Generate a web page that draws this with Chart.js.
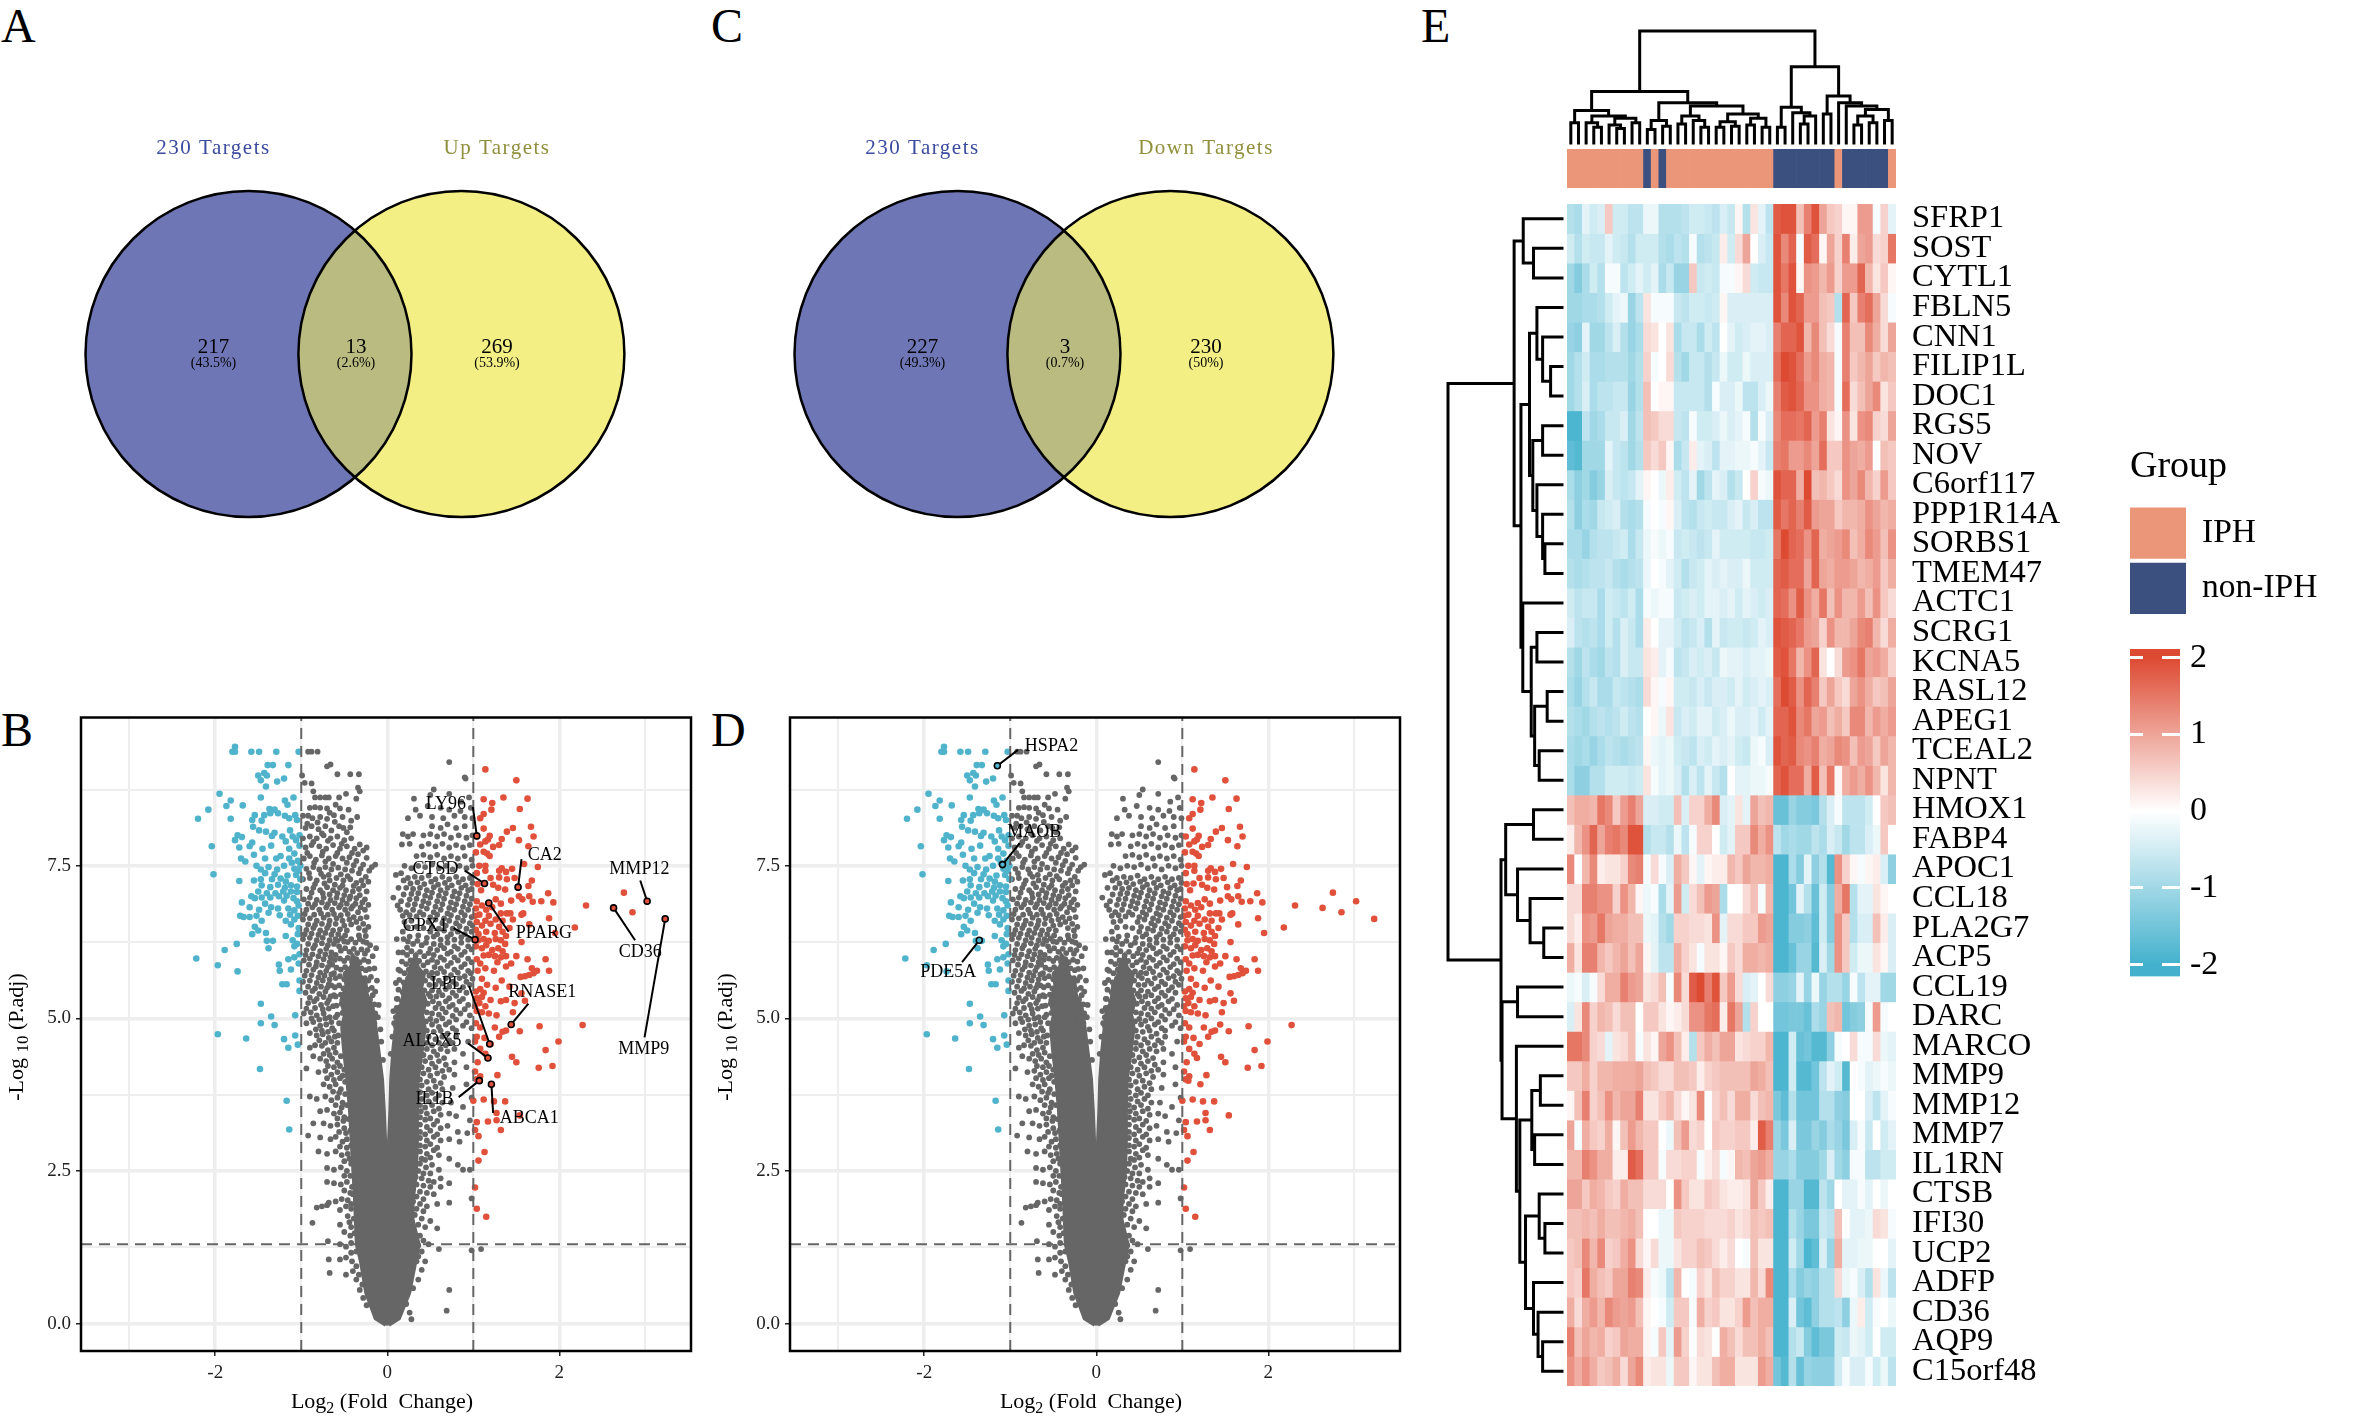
<!DOCTYPE html>
<html><head><meta charset="utf-8">
<script src="https://cdn.jsdelivr.net/npm/chart.js@4"></script>
<style>
html,body{margin:0;padding:0;background:#fff;width:2364px;height:1418px;overflow:hidden}
canvas{position:absolute}
.tag{position:absolute;font:48px "Liberation Serif",serif;color:#000;line-height:48px}
</style></head><body>
<div class="tag" style="left:1px;top:2px">A</div>
<div class="tag" style="left:711px;top:2px">C</div>
<div class="tag" style="left:1px;top:706px">B</div>
<div class="tag" style="left:711px;top:706px">D</div>
<div class="tag" style="left:1421px;top:2px">E</div>
<script>
// ---------- Venn ----------
const vennA=[217,13,269], vennApct=['(43.5%)','(2.6%)','(53.9%)'], vennAnames=['230 Targets','Up Targets'];
const vennC=[227,3,230], vennCpct=['(49.3%)','(0.7%)','(50%)'], vennCnames=['230 Targets','Down Targets'];
// ---------- Volcano ----------
const blueUp=[[-1.80,9.37],[-1.77,9.37],[-1.77,9.45],[-1.58,9.37],[-1.49,9.37],[-1.29,9.37],[-1.03,9.37],[-1.39,9.15],[-1.33,9.15],[-1.15,9.15],[-1.50,8.98],[-1.43,9.02],[-1.47,8.90],[-1.40,8.98],[-1.28,8.88],[-1.20,8.93],[-1.41,8.80],[-1.95,8.68],[-1.47,8.62],[-1.09,8.62],[-1.82,8.57],[-1.19,8.57],[-1.87,8.48],[-1.68,8.49],[-1.16,8.50],[-1.37,8.43],[-1.31,8.42],[-1.36,8.36],[-2.08,8.42],[-1.54,8.33],[-1.43,8.33],[-1.27,8.36],[-1.19,8.32],[-1.07,8.33],[-1.14,8.28],[-2.20,8.27],[-1.82,8.27],[-1.57,8.25],[-1.46,8.24],[-1.05,8.25],[-1.56,8.14],[-1.49,8.08],[-1.41,8.06],[-1.31,8.04],[-1.13,8.08],[-1.74,8.00],[-1.69,7.97],[-1.34,7.99],[-1.22,7.98],[-1.10,7.98],[-1.02,8.00],[-1.77,7.92],[-1.57,7.88],[-1.18,7.90],[-1.06,7.92],[-2.04,7.82],[-1.72,7.80],[-1.60,7.82],[-1.45,7.78],[-1.35,7.83],[-1.14,7.78],[-1.02,7.83],[-1.55,7.68],[-1.24,7.66],[-1.14,7.62],[-1.08,7.70],[-1.70,7.62],[-1.65,7.57],[-1.42,7.62],[-1.29,7.62],[-1.11,7.55],[-1.04,7.58],[-1.01,7.50],[-1.52,7.50],[-1.47,7.44],[-1.38,7.48],[-1.28,7.44],[-1.20,7.50],[-1.08,7.45],[-1.03,7.42],[-2.02,7.36],[-1.42,7.38],[-1.31,7.36],[-1.16,7.34],[-1.06,7.35],[-1.72,7.25],[-1.55,7.26],[-1.47,7.28],[-1.34,7.28],[-1.24,7.29],[-1.18,7.24],[-1.01,7.28],[-1.46,7.18],[-1.36,7.15],[-1.27,7.19],[-1.19,7.14],[-1.12,7.18],[-1.05,7.16],[-1.50,7.08],[-1.40,7.05],[-1.30,7.05],[-1.21,7.08],[-1.12,7.08],[-1.05,7.07],[-1.58,7.00],[-1.54,6.97],[-1.46,6.98],[-1.36,6.98],[-1.26,7.00],[-1.17,7.01],[-1.09,6.97],[-1.69,6.90],[-1.42,6.88],[-1.20,6.93],[-1.05,6.92],[-1.60,6.82],[-1.49,6.78],[-1.35,6.82],[-1.27,6.80],[-1.15,6.80],[-1.08,6.77],[-1.03,6.85],[-1.71,6.68],[-1.67,6.66],[-1.60,6.66],[-1.52,6.68],[-1.38,6.73],[-1.25,6.69],[-1.13,6.70],[-1.04,6.68],[-1.46,6.60],[-1.54,6.50],[-1.50,6.44],[-1.18,6.60],[-1.12,6.54],[-1.08,6.62],[-1.03,6.48],[-1.57,6.38],[-1.41,6.40],[-1.18,6.35],[-1.04,6.38],[-1.40,6.27],[-1.33,6.27],[-1.10,6.28],[-1.05,6.22],[-1.75,6.22],[-1.89,6.12],[-1.38,6.15],[-1.08,6.18],[-2.22,5.98],[-1.02,6.05],[-1.08,6.00],[-1.15,5.97],[-1.03,5.90],[-1.97,5.87],[-1.26,5.88],[-1.12,5.80],[-1.25,5.78],[-1.74,5.77],[-1.02,5.62],[-1.22,5.56],[-1.17,5.56],[-1.02,5.45],[-1.47,5.24],[-1.35,5.03],[-1.07,5.05],[-1.47,4.92],[-1.31,4.89],[-1.20,4.66],[-1.97,4.74],[-1.64,4.67],[-1.04,4.57],[-1.15,4.52],[-1.07,4.72],[-1.48,4.17],[-1.17,3.65],[-1.14,3.18]];
const redUp=[[1.14,9.08],[1.50,8.90],[1.35,8.62],[1.12,8.59],[1.63,8.60],[1.22,8.53],[1.21,8.42],[1.54,8.43],[1.12,8.35],[1.08,8.28],[1.67,8.14],[1.46,8.12],[1.39,8.06],[1.12,8.11],[1.70,7.98],[1.19,7.99],[1.33,7.94],[1.53,7.92],[1.14,7.90],[1.17,7.93],[1.30,7.84],[1.23,7.81],[1.64,7.82],[1.12,7.73],[1.16,7.70],[1.19,7.66],[1.04,7.98],[1.08,7.85],[1.03,7.72],[1.59,7.53],[1.75,7.48],[1.14,7.50],[1.07,7.50],[1.33,7.46],[1.45,7.45],[1.30,7.42],[1.14,7.42],[1.38,7.40],[1.04,7.38],[1.48,7.30],[1.39,7.28],[1.30,7.31],[1.68,7.26],[1.64,7.17],[1.20,7.30],[1.23,7.19],[1.29,7.14],[1.37,7.11],[1.52,7.15],[1.13,7.21],[1.05,7.20],[1.09,7.10],[1.87,7.05],[1.65,7.00],[1.53,7.00],[1.57,6.95],[1.44,6.93],[1.69,6.91],[1.79,6.92],[1.93,6.90],[2.31,6.85],[2.75,7.06],[2.85,6.74],[1.88,6.64],[2.18,6.49],[3.02,6.92],[2.63,6.81],[3.23,6.63],[1.18,6.89],[1.26,6.95],[1.04,6.92],[1.10,6.85],[1.03,6.80],[1.15,6.78],[1.22,6.82],[1.32,6.88],[1.43,6.72],[1.39,6.72],[1.58,6.72],[1.56,6.70],[1.32,6.72],[1.07,6.70],[1.02,6.68],[1.18,6.68],[1.26,6.62],[1.14,6.60],[1.34,6.60],[1.46,6.62],[1.04,6.58],[1.10,6.52],[1.20,6.55],[1.30,6.50],[1.65,6.54],[1.42,6.48],[1.03,6.45],[1.06,6.38],[1.15,6.42],[1.25,6.40],[1.34,6.42],[1.38,6.35],[1.95,6.40],[1.06,6.28],[1.12,6.30],[1.18,6.27],[1.26,6.30],[1.32,6.28],[1.37,6.22],[1.56,6.25],[1.03,6.18],[1.10,6.15],[1.15,6.20],[1.22,6.12],[1.29,6.15],[1.34,6.10],[1.12,6.03],[1.18,6.04],[1.25,6.02],[1.32,6.00],[1.38,6.02],[1.50,6.02],[1.63,5.97],[1.84,5.97],[1.04,5.97],[1.08,5.90],[1.28,5.92],[1.44,5.90],[1.14,5.82],[1.38,5.85],[1.68,5.82],[1.88,5.78],[1.74,5.78],[1.05,5.78],[1.24,5.78],[1.60,5.69],[1.65,5.71],[1.70,5.74],[1.55,5.68],[1.10,5.65],[1.33,5.62],[1.16,5.55],[1.26,5.50],[1.42,5.52],[1.08,5.48],[1.03,5.44],[1.12,5.42],[1.56,5.41],[1.04,5.33],[1.10,5.35],[1.20,5.30],[1.32,5.28],[1.38,5.30],[1.48,5.25],[1.60,5.29],[1.02,5.20],[1.07,5.25],[1.14,5.20],[1.04,5.12],[1.10,5.10],[1.18,5.08],[1.27,5.05],[1.46,5.10],[1.03,4.92],[1.08,4.85],[1.44,4.90],[1.38,4.80],[1.54,4.79],[1.77,4.87],[2.27,4.89],[1.25,4.85],[1.04,4.70],[1.13,4.68],[1.20,4.58],[1.30,4.70],[1.34,4.78],[1.99,4.62],[1.84,4.48],[1.02,4.62],[1.08,4.50],[1.17,4.35],[1.14,4.42],[1.45,4.37],[1.50,4.28],[1.92,4.22],[1.76,4.19],[1.05,4.28],[1.02,4.13],[1.08,4.05],[1.07,3.98],[1.21,3.92],[1.28,4.07],[1.04,4.00],[1.37,3.64],[1.12,3.67],[1.00,3.65],[1.24,3.64],[1.27,3.33],[1.17,3.31],[1.32,3.17],[1.04,3.30],[1.54,3.41],[1.27,3.45],[1.02,3.17],[1.06,3.07],[1.13,2.81],[1.06,2.67],[1.02,2.23],[1.04,1.88],[1.15,1.75]];
const grayDots=[[-0.92,9.37],[-0.88,9.37],[-0.81,9.37],[-0.70,9.13],[-0.66,9.16],[-0.58,9.00],[-0.43,9.00],[-0.33,9.00],[-0.99,8.98],[-0.96,8.86],[-0.88,8.85],[-0.86,8.72],[-0.34,8.78],[-0.32,8.72],[-0.84,8.62],[-0.78,8.62],[-0.72,8.62],[-0.68,8.62],[-0.56,8.62],[-0.48,8.68],[-0.36,8.60],[-0.90,8.45],[-0.84,8.46],[-0.78,8.45],[-0.70,8.44],[-0.60,8.50],[-0.55,8.44],[-0.45,8.42],[-0.98,8.32],[-0.92,8.32],[-0.87,8.28],[-0.78,8.30],[-0.70,8.27],[-0.62,8.33],[-0.52,8.30],[-0.42,8.24],[-0.35,8.30],[-0.95,8.12],[-0.88,8.15],[-0.80,8.10],[-0.72,8.15],[-0.65,8.08],[-0.56,8.15],[-0.47,8.05],[-0.98,7.95],[-0.90,7.98],[-0.82,7.95],[-0.74,8.00],[-0.66,7.95],[-0.58,7.98],[-0.50,7.92],[-0.42,7.95],[-0.32,7.85],[-0.24,7.80],[-0.95,7.80],[-0.88,7.84],[-0.79,7.82],[-0.71,7.78],[-0.63,7.84],[-0.55,7.78],[-0.47,7.82],[-0.38,7.78],[-0.28,7.75],[-0.97,7.62],[-0.90,7.66],[-0.83,7.60],[-0.76,7.67],[-0.68,7.62],[-0.60,7.66],[-0.52,7.62],[-0.44,7.64],[-0.36,7.58],[-0.28,7.52],[-0.18,7.48],[-0.14,7.52],[-0.94,7.45],[-0.86,7.48],[-0.79,7.44],[-0.72,7.48],[-0.65,7.44],[-0.57,7.47],[-0.49,7.44],[-0.41,7.42],[-0.33,7.38],[-0.25,7.32],[-0.98,7.28],[-0.90,7.30],[-0.82,7.26],[-0.74,7.32],[-0.67,7.26],[-0.59,7.30],[-0.51,7.26],[-0.43,7.28],[-0.36,7.22],[-0.28,7.18],[-0.94,7.12],[-0.86,7.14],[-0.78,7.10],[-0.70,7.15],[-0.63,7.10],[-0.55,7.14],[-0.48,7.10],[-0.40,7.08],[-0.32,7.02],[-0.26,6.95],[-0.97,6.95],[-0.90,6.98],[-0.82,6.94],[-0.74,6.98],[-0.66,6.94],[-0.59,6.98],[-0.52,6.94],[-0.44,6.96],[-0.37,6.88],[-0.94,6.78],[-0.87,6.82],[-0.79,6.78],[-0.71,6.82],[-0.64,6.78],[-0.56,6.82],[-0.49,6.78],[-0.42,6.80],[-0.34,6.74],[-0.26,6.78],[-0.98,6.62],[-0.90,6.64],[-0.82,6.60],[-0.74,6.65],[-0.67,6.60],[-0.59,6.64],[-0.52,6.60],[-0.44,6.62],[-0.36,6.58],[-0.28,6.55],[-0.22,6.50],[-0.94,6.45],[-0.86,6.48],[-0.78,6.44],[-0.70,6.48],[-0.63,6.44],[-0.55,6.46],[-0.47,6.44],[-0.98,6.30],[-0.90,6.32],[-0.82,6.28],[-0.75,6.32],[-0.67,6.28],[-0.60,6.30],[-0.94,6.12],[-0.86,6.15],[-0.78,6.10],[-0.71,6.14],[-0.65,6.08],[-0.25,6.35],[-0.20,6.20],[-0.97,5.95],[-0.90,5.98],[-0.82,5.92],[-0.74,5.97],[-0.67,5.92],[-0.94,5.78],[-0.86,5.80],[-0.78,5.75],[-0.71,5.78],[-0.65,5.72],[-0.98,5.60],[-0.90,5.62],[-0.82,5.58],[-0.75,5.62],[-0.68,5.56],[-0.95,5.42],[-0.87,5.45],[-0.79,5.40],[-0.72,5.44],[-0.66,5.36],[-0.92,5.25],[-0.85,5.28],[-0.77,5.22],[-0.70,5.25],[-0.97,5.08],[-0.89,5.10],[-0.82,5.05],[-0.74,5.08],[-0.67,5.02],[-0.94,4.92],[-0.86,4.94],[-0.78,4.88],[-0.71,4.90],[-0.64,4.84],[-0.90,4.76],[-0.82,4.72],[-0.75,4.74],[-0.68,4.68],[-0.61,4.70],[-0.90,4.52],[-0.84,4.56],[-0.76,4.55],[-0.69,4.48],[-0.62,4.52],[-0.86,4.38],[-0.78,4.34],[-0.71,4.30],[-0.64,4.34],[-0.58,4.28],[-0.94,4.18],[-0.80,4.12],[-0.72,4.14],[-0.65,4.08],[-0.58,4.12],[-0.52,4.06],[-0.90,3.72],[-0.74,3.92],[-0.67,3.88],[-0.60,3.92],[-0.54,3.84],[-0.82,3.68],[-0.72,3.72],[-0.65,3.66],[-0.58,3.70],[-0.52,3.62],[-0.78,3.48],[-0.70,3.50],[-0.62,3.44],[-0.55,3.46],[-0.50,3.38],[-0.86,3.28],[-0.74,3.28],[-0.66,3.24],[-0.58,3.26],[-0.50,3.20],[-0.92,3.08],[-0.78,3.05],[-0.66,3.02],[-0.60,3.06],[-0.52,2.98],[-0.47,3.02],[-0.80,2.82],[-0.70,2.78],[-0.60,2.82],[-0.53,2.76],[-0.46,2.78],[-0.70,2.55],[-0.62,2.52],[-0.54,2.56],[-0.47,2.50],[-0.42,2.62],[-0.70,2.32],[-0.62,2.30],[-0.54,2.28],[-0.47,2.32],[-0.41,2.24],[-0.68,1.98],[-0.60,2.00],[-0.53,2.04],[-0.46,2.02],[-0.40,2.12],[-0.82,1.90],[-0.76,1.92],[-0.70,1.94],[-0.55,1.86],[-0.46,1.76],[-0.42,1.88],[-0.87,1.65],[-0.55,1.62],[-0.50,1.50],[-0.42,1.58],[-0.69,1.35],[-0.55,1.30],[-0.48,1.26],[-0.42,1.32],[-0.68,1.05],[-0.55,1.05],[-0.48,1.08],[-0.41,1.02],[-0.67,0.83],[-0.48,0.80],[-0.40,0.86],[-0.36,0.72],[-0.32,0.55],[-0.28,0.42],[-0.24,0.30],[0.72,9.20],[0.90,8.95],[0.91,8.93],[0.54,8.75],[0.95,8.62],[0.31,8.60],[0.50,8.66],[0.72,8.68],[0.86,8.55],[0.33,8.42],[0.47,8.48],[0.62,8.45],[0.72,8.42],[0.85,8.40],[0.97,8.45],[0.24,8.28],[0.38,8.32],[0.52,8.30],[0.65,8.28],[0.78,8.32],[0.90,8.30],[0.99,8.28],[0.52,8.15],[0.62,8.12],[0.70,8.18],[0.80,8.12],[0.90,8.15],[0.18,8.02],[0.24,7.98],[0.30,8.02],[0.42,8.00],[0.50,8.02],[0.58,7.98],[0.66,8.02],[0.74,7.96],[0.83,8.00],[0.92,7.96],[0.99,8.00],[0.17,7.85],[0.26,7.86],[0.40,7.82],[0.48,7.86],[0.56,7.82],[0.64,7.86],[0.72,7.80],[0.80,7.84],[0.88,7.80],[0.96,7.84],[0.34,7.66],[0.42,7.68],[0.50,7.64],[0.58,7.68],[0.66,7.62],[0.74,7.66],[0.82,7.62],[0.90,7.66],[0.98,7.60],[0.20,7.50],[0.28,7.46],[0.36,7.50],[0.44,7.48],[0.52,7.52],[0.60,7.46],[0.68,7.50],[0.76,7.44],[0.84,7.50],[0.92,7.46],[0.99,7.50],[0.10,7.35],[0.16,7.38],[0.24,7.30],[0.32,7.32],[0.40,7.30],[0.48,7.34],[0.56,7.28],[0.64,7.32],[0.72,7.28],[0.80,7.32],[0.88,7.28],[0.96,7.30],[0.22,7.14],[0.30,7.12],[0.38,7.14],[0.46,7.10],[0.54,7.15],[0.62,7.10],[0.70,7.14],[0.78,7.08],[0.86,7.14],[0.94,7.10],[0.07,6.98],[0.16,6.92],[0.26,6.95],[0.34,6.96],[0.42,6.92],[0.50,6.98],[0.58,6.92],[0.66,6.96],[0.74,6.90],[0.82,6.96],[0.90,6.92],[0.98,6.96],[0.15,6.78],[0.22,6.74],[0.30,6.78],[0.38,6.74],[0.46,6.80],[0.54,6.74],[0.62,6.78],[0.70,6.72],[0.78,6.78],[0.86,6.74],[0.94,6.78],[0.20,6.58],[0.28,6.60],[0.48,6.58],[0.56,6.62],[0.64,6.56],[0.72,6.60],[0.80,6.56],[0.88,6.60],[0.96,6.56],[0.18,6.42],[0.50,6.42],[0.58,6.38],[0.66,6.44],[0.74,6.38],[0.82,6.42],[0.90,6.38],[0.98,6.42],[0.54,6.22],[0.62,6.20],[0.70,6.24],[0.78,6.18],[0.86,6.24],[0.94,6.18],[0.54,6.04],[0.62,6.00],[0.70,6.06],[0.78,6.00],[0.86,6.04],[0.94,5.98],[0.55,5.84],[0.62,5.82],[0.70,5.86],[0.78,5.80],[0.86,5.84],[0.94,5.78],[0.53,5.66],[0.60,5.62],[0.68,5.66],[0.76,5.60],[0.84,5.66],[0.92,5.60],[0.99,5.65],[0.52,5.46],[0.60,5.44],[0.68,5.48],[0.76,5.42],[0.84,5.46],[0.92,5.42],[0.53,5.28],[0.60,5.24],[0.68,5.28],[0.76,5.22],[0.84,5.28],[0.94,5.22],[0.52,5.08],[0.60,5.06],[0.68,5.10],[0.76,5.04],[0.85,5.08],[0.96,5.05],[0.52,4.90],[0.60,4.86],[0.68,4.90],[0.76,4.84],[0.88,4.88],[0.98,4.84],[0.48,4.70],[0.56,4.66],[0.64,4.70],[0.72,4.64],[0.80,4.70],[0.94,4.62],[0.46,4.50],[0.54,4.46],[0.62,4.50],[0.70,4.46],[0.78,4.50],[0.88,4.42],[0.44,4.30],[0.52,4.26],[0.60,4.30],[0.68,4.24],[0.78,4.28],[0.92,4.20],[0.42,4.10],[0.50,4.06],[0.58,4.10],[0.66,4.04],[0.78,4.08],[0.92,3.92],[0.40,3.90],[0.48,3.84],[0.56,3.88],[0.64,3.84],[0.76,3.86],[0.98,3.70],[0.40,3.68],[0.48,3.64],[0.56,3.68],[0.64,3.62],[0.74,3.62],[0.88,3.55],[0.39,3.48],[0.46,3.44],[0.54,3.48],[0.62,3.42],[0.72,3.44],[0.80,3.40],[0.96,3.33],[0.38,3.26],[0.46,3.22],[0.54,3.26],[0.62,3.20],[0.70,3.24],[0.82,3.14],[0.93,3.12],[0.38,3.04],[0.46,3.00],[0.54,3.06],[0.62,3.00],[0.72,3.02],[0.84,2.98],[0.38,2.82],[0.46,2.78],[0.54,2.84],[0.60,2.76],[0.72,2.70],[0.82,2.60],[0.88,2.52],[0.38,2.62],[0.45,2.56],[0.52,2.60],[0.60,2.52],[0.96,2.52],[0.33,2.40],[0.40,2.38],[0.48,2.34],[0.54,2.32],[0.62,2.38],[0.30,2.20],[0.38,2.16],[0.46,2.14],[0.54,2.12],[0.62,2.24],[0.72,2.30],[0.30,2.00],[0.38,1.96],[0.46,1.92],[0.58,1.96],[0.72,1.98],[0.98,2.05],[0.32,1.78],[0.40,1.72],[0.50,1.68],[0.58,1.56],[0.30,1.56],[0.38,1.44],[0.48,1.30],[0.60,1.22],[0.40,1.18],[0.98,1.20],[1.09,1.22],[0.34,1.02],[0.44,1.02],[0.40,0.88],[0.36,0.72],[0.30,0.58],[0.72,0.55],[0.69,0.21],[0.28,0.07],[0.22,0.32],[0.26,0.18]];
const grayMore=[[-0.81,8.21],[-0.67,8.37],[-0.93,8.19],[-0.51,8.12],[-0.76,8.03],[-0.61,8.22],[-0.43,8.13],[-0.86,7.89],[-0.53,7.86],[-0.69,7.91],[-0.34,7.69],[-0.93,7.71],[-0.75,7.73],[-0.58,7.71],[-0.41,7.71],[-0.24,7.63],[-0.85,7.55],[-0.72,7.57],[-0.63,7.53],[-0.47,7.55],[-0.39,7.51],[-0.31,7.45],[-0.21,7.42],[-0.91,7.38],[-0.77,7.37],[-0.68,7.35],[-0.54,7.36],[-0.46,7.33],[-0.30,7.26],[-0.22,7.24],[-0.84,7.20],[-0.73,7.21],[-0.61,7.19],[-0.52,7.18],[-0.39,7.17],[-0.33,7.12],[-0.24,7.08],[-0.88,7.06],[-0.75,7.05],[-0.67,7.03],[-0.58,7.05],[-0.50,7.02],[-0.43,7.00],[-0.36,6.97],[-0.29,6.90],[-0.92,6.88],[-0.84,6.87],[-0.76,6.90],[-0.69,6.87],[-0.61,6.89],[-0.54,6.86],[-0.47,6.88],[-0.40,6.84],[-0.31,6.82],[-0.22,6.86],[-0.96,6.71],[-0.85,6.70],[-0.77,6.72],[-0.69,6.70],[-0.62,6.71],[-0.54,6.69],[-0.46,6.71],[-0.39,6.66],[-0.31,6.64],[-0.24,6.66],[-0.92,6.54],[-0.84,6.53],[-0.76,6.55],[-0.68,6.53],[-0.60,6.55],[-0.50,6.52],[-0.42,6.54],[-0.33,6.48],[-0.26,6.44],[-0.96,6.38],[-0.88,6.39],[-0.80,6.37],[-0.72,6.40],[-0.65,6.37],[-0.57,6.38],[-0.49,6.36],[-0.92,6.22],[-0.84,6.20],[-0.76,6.23],[-0.69,6.20],[-0.62,6.22],[-0.56,6.18],[-0.50,6.26],[-0.32,6.30],[-0.24,6.24],[-0.95,6.04],[-0.87,6.05],[-0.80,6.02],[-0.72,6.05],[-0.66,6.00],[-0.60,6.04],[-0.91,5.88],[-0.83,5.85],[-0.76,5.87],[-0.69,5.84],[-0.64,5.88],[-0.96,5.70],[-0.88,5.71],[-0.80,5.67],[-0.73,5.70],[-0.67,5.64],[-0.62,5.74],[-0.92,5.52],[-0.84,5.49],[-0.77,5.52],[-0.70,5.50],[-0.65,5.54],[-0.90,5.34],[-0.82,5.32],[-0.74,5.35],[-0.68,5.30],[-0.62,5.38],[-0.94,5.16],[-0.84,5.17],[-0.75,5.15],[-0.68,5.16],[-0.63,5.20],[-0.88,5.00],[-0.79,4.98],[-0.72,5.00],[-0.65,4.94],[-0.60,5.02],[-0.83,4.82],[-0.76,4.80],[-0.69,4.78],[-0.62,4.80],[-0.57,4.72],[-0.79,4.64],[-0.72,4.60],[-0.65,4.62],[-0.58,4.60],[-0.74,4.42],[-0.67,4.40],[-0.60,4.44],[-0.54,4.38],[-0.69,4.22],[-0.62,4.20],[-0.55,4.22],[-0.50,4.16],[-0.70,4.02],[-0.62,3.99],[-0.55,4.02],[-0.49,3.96],[-0.63,3.80],[-0.56,3.78],[-0.49,3.76],[-0.60,3.58],[-0.53,3.54],[-0.47,3.58],[-0.58,3.36],[-0.51,3.32],[-0.45,3.35],[-0.56,3.14],[-0.48,3.12],[-0.43,3.16],[-0.55,2.90],[-0.47,2.88],[-0.42,2.92],[-0.50,2.66],[-0.44,2.70],[-0.50,2.42],[-0.43,2.42],[-0.50,2.18],[-0.43,2.14],[-0.48,1.92],[-0.42,1.96],[-0.44,1.66],[-0.39,1.72],[-0.43,1.44],[-0.38,1.48],[-0.42,1.16],[-0.36,1.18],[-0.36,0.94],[-0.33,0.80],[-0.29,0.64],[-0.13,6.15],[-0.17,6.02],[-0.15,5.82],[-0.12,5.62],[-0.14,5.44],[-0.10,5.22],[-0.11,5.02],[-0.08,4.82],[-0.07,4.62],[-0.05,4.32],[0.11,6.30],[0.13,6.08],[0.13,5.80],[0.10,5.58],[0.11,5.32],[0.07,5.12],[0.08,4.92],[0.06,4.70],[0.04,4.42],[0.13,7.14],[0.19,7.26],[0.27,7.21],[0.35,7.23],[0.43,7.20],[0.51,7.24],[0.59,7.19],[0.67,7.22],[0.75,7.18],[0.83,7.23],[0.91,7.18],[0.99,7.22],[0.19,7.03],[0.28,7.04],[0.36,7.05],[0.44,7.01],[0.52,7.06],[0.60,7.01],[0.68,7.05],[0.76,7.00],[0.84,7.05],[0.92,7.01],[0.98,7.12],[0.12,6.85],[0.24,6.86],[0.32,6.87],[0.40,6.84],[0.48,6.89],[0.56,6.83],[0.64,6.87],[0.72,6.81],[0.80,6.87],[0.88,6.83],[0.96,6.87],[0.18,6.68],[0.26,6.69],[0.34,6.67],[0.42,6.70],[0.50,6.66],[0.58,6.70],[0.66,6.64],[0.74,6.69],[0.82,6.65],[0.90,6.69],[0.98,6.66],[0.24,6.49],[0.34,6.50],[0.42,6.48],[0.52,6.50],[0.60,6.47],[0.68,6.52],[0.76,6.47],[0.84,6.51],[0.92,6.47],[0.99,6.52],[0.26,6.34],[0.36,6.36],[0.46,6.32],[0.54,6.34],[0.62,6.29],[0.70,6.33],[0.78,6.29],[0.86,6.33],[0.94,6.29],[0.23,6.16],[0.50,6.14],[0.58,6.12],[0.66,6.15],[0.74,6.09],[0.82,6.14],[0.90,6.09],[0.98,6.13],[0.52,5.96],[0.58,5.92],[0.66,5.96],[0.74,5.91],[0.82,5.95],[0.90,5.89],[0.98,5.92],[0.52,5.75],[0.58,5.74],[0.66,5.76],[0.74,5.71],[0.82,5.75],[0.90,5.69],[0.97,5.74],[0.56,5.55],[0.64,5.57],[0.72,5.52],[0.80,5.56],[0.88,5.51],[0.96,5.55],[0.50,5.36],[0.57,5.36],[0.64,5.38],[0.72,5.33],[0.80,5.37],[0.88,5.32],[0.56,5.17],[0.64,5.16],[0.72,5.19],[0.80,5.14],[0.90,5.15],[0.50,4.99],[0.57,4.96],[0.64,5.00],[0.72,4.94],[0.80,4.98],[0.92,4.94],[0.46,4.80],[0.54,4.78],[0.62,4.80],[0.70,4.75],[0.80,4.80],[0.46,4.60],[0.52,4.56],[0.60,4.60],[0.68,4.56],[0.76,4.60],[0.42,4.40],[0.50,4.36],[0.58,4.40],[0.66,4.35],[0.40,4.20],[0.48,4.16],[0.56,4.20],[0.64,4.14],[0.72,4.16],[0.38,4.00],[0.46,3.96],[0.54,3.98],[0.62,3.94],[0.38,3.79],[0.46,3.74],[0.52,3.78],[0.60,3.74],[0.38,3.58],[0.44,3.54],[0.52,3.58],[0.60,3.52],[0.38,3.38],[0.44,3.34],[0.50,3.36],[0.58,3.32],[0.38,3.14],[0.44,3.10],[0.50,3.16],[0.58,3.10],[0.38,2.92],[0.44,2.90],[0.50,2.94],[0.58,2.88],[0.40,2.70],[0.44,2.68],[0.50,2.72],[0.36,2.50],[0.42,2.46],[0.50,2.46],[0.34,2.28],[0.42,2.26],[0.50,2.24],[0.34,2.08],[0.42,2.04],[0.34,1.88],[0.42,1.84],[0.36,1.62],[0.44,1.58],[0.42,1.36],[0.36,1.28],[0.36,1.10]];
const grayWing=[[-0.58,6.27],[-0.53,6.31],[-0.46,6.25],[-0.42,6.30],[-0.37,6.24],[-0.33,6.36],[-0.28,6.26],[-0.54,6.11],[-0.49,6.15],[-0.44,6.09],[-0.39,6.14],[-0.35,6.07],[-0.30,6.13],[-0.26,6.06],[-0.23,6.12],[-0.61,5.96],[-0.55,5.98],[-0.50,5.94],[-0.46,5.99],[-0.41,5.93],[-0.36,5.97],[-0.32,5.92],[-0.27,5.96],[-0.22,5.93],[-0.59,5.83],[-0.54,5.80],[-0.49,5.84],[-0.44,5.79],[-0.39,5.83],[-0.34,5.78],[-0.30,5.82],[-0.25,5.79],[-0.21,5.81],[-0.60,5.66],[-0.55,5.69],[-0.50,5.64],[-0.45,5.68],[-0.40,5.63],[-0.35,5.67],[-0.31,5.62],[-0.26,5.66],[-0.22,5.62],[-0.19,5.68],[-0.61,5.51],[-0.56,5.54],[-0.51,5.49],[-0.46,5.53],[-0.41,5.48],[-0.36,5.52],[-0.31,5.47],[-0.27,5.51],[-0.23,5.47],[-0.18,5.50],[-0.60,5.36],[-0.54,5.39],[-0.49,5.34],[-0.44,5.38],[-0.39,5.33],[-0.34,5.37],[-0.29,5.32],[-0.24,5.36],[-0.20,5.31],[-0.17,5.38],[-0.59,5.21],[-0.53,5.24],[-0.48,5.19],[-0.43,5.23],[-0.38,5.18],[-0.33,5.22],[-0.28,5.17],[-0.23,5.21],[-0.19,5.16],[-0.15,5.23],[-0.58,5.06],[-0.52,5.09],[-0.47,5.04],[-0.42,5.08],[-0.37,5.03],[-0.32,5.07],[-0.27,5.02],[-0.22,5.06],[-0.18,5.01],[-0.14,5.08],[-0.56,4.92],[-0.50,4.94],[-0.44,4.90],[-0.38,4.93],[-0.32,4.89],[-0.26,4.92],[-0.20,4.88],[-0.15,4.92],[0.19,6.30],[0.24,6.26],[0.30,6.22],[0.35,6.27],[0.40,6.20],[0.45,6.24],[0.18,6.08],[0.23,6.04],[0.28,6.10],[0.33,6.03],[0.38,6.09],[0.43,6.02],[0.48,6.07],[0.17,5.93],[0.22,5.89],[0.27,5.95],[0.32,5.88],[0.37,5.94],[0.42,5.87],[0.47,5.92],[0.15,5.78],[0.20,5.74],[0.25,5.80],[0.30,5.73],[0.35,5.79],[0.40,5.72],[0.45,5.77],[0.49,5.70],[0.14,5.63],[0.19,5.59],[0.24,5.65],[0.29,5.58],[0.34,5.64],[0.39,5.57],[0.44,5.62],[0.49,5.55],[0.13,5.47],[0.18,5.43],[0.23,5.49],[0.28,5.42],[0.33,5.48],[0.38,5.41],[0.43,5.46],[0.48,5.40],[0.12,5.32],[0.17,5.28],[0.22,5.34],[0.27,5.27],[0.32,5.33],[0.37,5.26],[0.42,5.31],[0.47,5.24],[0.11,5.17],[0.16,5.13],[0.21,5.19],[0.26,5.12],[0.31,5.18],[0.36,5.11],[0.41,5.16],[0.46,5.10],[0.10,5.02],[0.15,4.98],[0.20,5.04],[0.25,4.97],[0.30,5.03],[0.35,4.96],[0.40,5.01],[0.45,4.95],[0.10,4.88],[0.16,4.84],[0.22,4.90],[0.28,4.83],[0.34,4.89],[0.40,4.82]];
const coneLeft=[[-0.02,-0.03],[-0.14,0.08],[-0.25,0.50],[-0.31,1.00],[-0.36,1.30],[-0.38,2.00],[-0.40,2.50],[-0.42,3.00],[-0.44,3.50],[-0.47,4.00],[-0.51,4.50],[-0.53,4.85],[-0.50,5.05],[-0.54,5.30],[-0.48,5.52],[-0.50,5.74],[-0.42,5.86],[-0.41,6.06],[-0.34,5.92],[-0.31,5.70],[-0.25,5.62],[-0.23,5.36],[-0.17,5.22],[-0.14,4.95],[-0.10,4.50],[-0.055,4.00],[-0.035,3.50],[-0.02,3.00],[-0.01,2.50],[0,2.00],[0,-0.03]];
const coneRight=[[0.02,-0.03],[0.14,0.08],[0.26,0.50],[0.33,1.00],[0.37,1.30],[0.30,1.70],[0.30,2.00],[0.34,2.50],[0.35,3.00],[0.35,3.50],[0.36,4.00],[0.41,4.50],[0.44,4.85],[0.41,5.06],[0.45,5.28],[0.40,5.50],[0.43,5.72],[0.36,5.84],[0.33,6.04],[0.27,5.88],[0.24,5.66],[0.19,5.54],[0.17,5.26],[0.12,5.16],[0.10,4.95],[0.065,4.50],[0.04,4.00],[0.03,3.50],[0.015,3.00],[0.005,2.50],[0,2.00],[0,-0.03]];
const labelsB=[['LY96',1.04,7.99,0.995,8.46,0.68,8.51],['CA2',1.52,7.15,1.56,7.61,1.83,7.68],['CTSD',1.13,7.21,0.90,7.42,0.56,7.45],['PPARG',1.18,6.89,1.41,6.42,1.82,6.39],['GPX1',1.02,6.29,0.77,6.48,0.44,6.51],['LPL',1.19,4.58,0.95,5.53,0.69,5.56],['RNASE1',1.44,4.90,1.64,5.24,1.80,5.43],['ALOX5',1.17,4.35,0.94,4.59,0.52,4.62],['IL1B',1.07,3.98,0.83,3.71,0.55,3.67],['ABCA1',1.21,3.92,1.23,3.45,1.65,3.37],['MMP12',3.02,6.92,2.94,7.26,2.93,7.45],['CD36',2.63,6.81,2.88,6.28,2.94,6.09],['MMP9',3.23,6.63,2.99,4.69,2.98,4.50]];
const labelsD=[['HSPA2',-1.15,9.14,-0.91,9.40,-0.52,9.46],['MAOB',-1.09,7.52,-0.89,7.87,-0.72,8.05],['PDE5A',-1.36,6.28,-1.56,5.92,-1.72,5.75]];
const xCuts=[-1,1], yCut=[1.3];
// ---------- Heat map ----------
const genes=['SFRP1','SOST','CYTL1','FBLN5','CNN1','FILIP1L','DOC1','RGS5','NOV','C6orf117','PPP1R14A','SORBS1','TMEM47','ACTC1','SCRG1','KCNA5','RASL12','APEG1','TCEAL2','NPNT','HMOX1','FABP4','APOC1','CCL18','PLA2G7','ACP5','CCL19','DARC','MARCO','MMP9','MMP12','MMP7','IL1RN','CTSB','IFI30','UCP2','ADFP','CD36','AQP9','C15orf48'];
const nonIphColumns=[10,12,27,28,29,30,31,32,33,34,36,37,38,39,40,41];
const heatTenths=[
[-8,-9,-3,-5,-4,6,-5,-5,-7,-7,-2,-2,-8,-8,-8,-7,-5,-5,-6,-7,-4,-6,1,-8,3,-3,-7,18,19,19,7,14,19,10,6,5,1,1,11,11,-1,5,-3],
[-5,-8,-5,-6,-6,-3,-5,-6,-8,-5,-5,-5,-8,-9,-7,-8,-1,-8,-7,-6,2,-5,4,10,0,-4,-6,19,13,17,-1,18,16,1,10,5,14,2,10,11,4,5,15],
[-10,-13,-9,-5,-8,-1,-1,-7,-5,-3,-5,-3,-9,-6,-11,-11,6,-6,-5,-6,-1,-1,1,4,-5,-6,-6,19,15,19,1,12,11,8,11,5,11,11,17,8,3,6,1],
[-10,-10,-9,-9,-8,-5,-3,-2,-11,-7,3,-1,-1,-1,-6,-7,-5,-5,-6,-5,1,-4,-4,-4,-4,-4,-4,19,13,19,17,11,11,7,6,-8,17,6,14,16,10,4,-1],
[-11,-12,-3,-10,-10,-7,-4,-8,-11,-9,4,3,0,3,-9,-6,-6,-9,-5,-7,0,-3,-5,-4,-3,-3,-4,14,17,17,19,8,13,7,4,-1,14,7,7,13,9,4,10],
[-10,-8,-5,-9,-9,-8,-8,-8,-10,-8,5,-1,0,4,-8,-10,-6,-6,-8,-6,-2,-5,-5,-2,-4,-4,-4,16,20,19,16,11,13,9,8,-1,14,6,8,10,6,8,7],
[-10,-8,-4,-9,-7,-7,-6,-6,-11,-8,7,0,1,1,-6,-6,-6,-6,-8,-1,-4,-4,-2,-7,-7,-4,-2,14,18,19,17,12,12,9,8,-1,16,4,7,10,13,3,6],
[-19,-19,-7,-10,-9,-6,-6,-4,-10,-7,7,6,4,4,-6,-7,-1,-5,-5,-4,-2,-4,-3,-1,-8,-1,-4,13,16,16,15,17,11,14,3,1,12,3,12,13,5,4,10],
[-17,-18,-10,-10,-10,-3,-6,-7,-10,-8,6,4,6,1,-9,-6,2,-3,-4,-7,-3,-3,-2,-2,-1,-3,-6,14,15,11,11,13,10,16,6,6,12,10,9,11,0,7,6],
[-9,-12,-10,-13,-11,-4,-6,-7,-6,-3,1,0,-2,2,-5,-7,-3,-10,-7,-3,-4,-8,-6,0,5,-1,-2,19,17,17,9,20,7,8,6,4,12,10,13,8,5,11,6],
[-8,-12,-9,-10,-6,-5,-4,-8,-9,-8,-1,0,-1,1,-4,-7,-8,-6,-5,-6,-6,-4,-3,-6,-4,-7,-7,18,15,17,14,18,11,10,10,6,8,8,9,12,10,8,9],
[-9,-9,-11,-8,-7,-7,-6,-5,-9,-6,-2,-1,-2,-1,-6,-5,-6,-7,-6,-3,-5,-5,-5,-5,-6,-6,-5,15,20,17,16,12,17,9,10,11,13,7,9,13,11,7,12],
[-8,-9,-8,-7,-7,-6,-8,-9,-8,-7,-2,0,-1,-3,-5,-8,-6,-5,-3,-4,-3,-4,-4,-2,-5,-5,-5,17,18,16,16,10,17,10,9,11,11,10,8,9,11,6,9],
[-5,-7,-6,-6,-9,-5,-6,-7,-5,-9,-1,-2,-1,-1,-6,-5,-4,-5,-3,-3,-4,-3,-5,-3,-4,-5,-4,17,16,12,18,12,9,15,7,12,8,8,11,7,12,6,4],
[-4,-7,-8,-7,-9,-5,-8,-4,-6,-9,2,0,-3,-3,-5,-7,-6,-4,-8,-3,-6,-5,-5,-6,-5,-3,-4,19,18,17,15,11,10,5,12,8,8,10,13,14,8,4,9],
[-8,-10,-7,-9,-10,-7,-8,-4,-6,-6,3,2,-3,-1,-7,-6,-4,-5,-4,-6,-2,-3,-3,-4,-3,-3,-2,18,19,15,8,12,17,3,0,4,11,12,15,10,11,9,5],
[-9,-11,-8,-6,-9,-9,-6,-7,-8,-9,4,1,-1,1,-5,-5,-6,-4,-6,-4,-4,-5,-3,-5,-4,-3,-4,16,20,18,12,17,14,6,10,6,4,10,12,9,6,7,10],
[-8,-9,-10,-8,-7,-8,-7,-5,-7,-8,0,1,-2,3,-6,-4,-5,-3,-3,-5,-4,-2,-4,-4,-3,-5,-3,17,17,19,13,15,10,11,7,9,6,13,13,8,11,9,11],
[-9,-10,-9,-11,-9,-7,-8,-9,-8,-7,1,-2,-3,-2,-5,-6,-7,-4,-5,-3,-4,-3,-5,-6,-2,-1,-4,19,17,18,13,12,14,9,10,13,12,7,11,10,6,10,8],
[-9,-12,-12,-8,-8,-5,-5,-5,-6,-5,3,-1,-3,-2,-4,-8,-4,-7,-3,-6,-8,0,-3,-3,-2,-2,-1,17,19,16,16,9,18,7,15,1,9,11,9,12,8,3,8],
[7,9,9,8,15,13,6,11,14,10,-4,-4,-5,-5,7,-4,5,5,9,13,-4,-3,3,-3,10,7,8,-16,-16,-11,-13,-13,-14,-8,-4,-1,-7,-7,-7,-5,0,6,7],
[2,8,12,17,10,14,15,13,19,19,-8,-6,-6,-8,-2,-7,-1,5,5,0,-5,-3,6,6,13,9,12,-7,-10,-9,-10,-10,-7,-9,-4,-6,-10,-7,-7,-4,-2,6,0],
[13,0,8,13,2,3,3,5,13,14,-1,4,-1,-4,9,6,1,-3,1,2,2,8,6,10,8,8,9,-19,-19,-9,-13,-3,-12,-8,-18,12,5,1,-1,1,2,-4,-12],
[4,4,14,14,12,12,5,12,8,1,-2,-1,-9,-3,11,-5,4,7,11,10,-9,0,0,4,7,-1,8,-19,-19,-15,-3,-8,-16,-5,-13,9,15,-8,-3,-3,3,1,0],
[4,2,12,11,15,10,9,9,7,7,-2,-3,-8,-10,5,5,4,4,3,12,-3,4,4,6,6,11,10,-19,-19,-13,-13,-12,-17,-5,-13,12,6,-8,-4,-4,7,2,-4],
[9,3,14,14,8,6,8,10,7,10,1,-3,-7,-7,9,5,3,-1,3,3,1,6,4,9,9,8,9,-19,-19,-16,-11,-11,-18,-4,-10,12,6,-5,-2,-2,3,1,-4],
[-2,-1,-4,-1,4,9,9,14,11,10,3,4,7,-1,13,4,18,20,14,19,6,11,4,-4,-3,0,4,-12,-12,-11,-3,-11,-2,-11,-8,-8,-11,-1,-7,-3,-3,-10,-10],
[-4,3,13,5,8,7,4,7,7,0,6,6,3,1,2,4,12,12,15,16,2,15,10,-8,5,0,0,-15,-15,-14,-14,-16,-9,-11,7,8,-15,-13,-12,-1,11,-1,0],
[15,15,13,5,4,-3,3,4,7,-1,3,1,10,12,7,2,-8,6,9,7,10,10,3,4,5,5,8,-19,-19,-5,-16,-15,-18,-18,-12,-1,0,4,-1,-1,4,-2,-3],
[6,6,9,5,8,8,9,9,9,10,7,6,4,4,7,7,6,2,5,6,7,7,7,7,10,9,7,-19,-19,-5,-18,-18,-15,-7,-3,-5,-18,0,-1,-3,-2,-1,-2],
[1,7,14,5,7,12,8,10,10,14,3,3,6,8,4,1,3,13,0,5,7,4,9,9,4,7,8,-14,-17,-8,-15,-15,-15,-8,-8,-12,-13,0,0,-4,-7,-3,-1],
[10,-1,9,6,5,9,1,7,11,8,6,6,0,-2,7,11,4,5,0,6,5,5,6,6,2,18,14,-11,-14,-4,-14,-14,-11,-13,-9,-11,-14,-4,-1,-6,0,-5,-3],
[8,8,14,12,9,9,2,2,18,16,6,6,-1,4,4,5,5,-1,2,4,-1,1,8,7,10,11,9,-11,-11,-9,-13,-13,-13,-10,-4,-10,-12,-1,-1,-7,-7,-5,-5],
[10,10,6,9,8,6,5,9,7,7,4,4,4,0,12,6,3,3,6,5,3,2,2,3,10,6,2,-19,-19,-11,-11,-18,-18,-7,-10,0,-3,-3,-1,-3,0,-2,0],
[7,7,8,7,9,7,7,8,9,7,0,0,-2,-2,6,5,5,5,4,4,4,5,3,4,7,6,7,-19,-19,-8,-11,-14,-14,-6,-7,7,0,-3,-3,-2,4,3,-1],
[6,7,13,8,13,5,6,9,12,4,1,4,-2,-2,3,5,5,7,6,4,2,4,0,-1,7,3,3,-19,-19,-5,-10,-19,-17,-4,-11,9,-3,-3,-2,-2,0,0,-3],
[6,5,15,9,7,6,10,10,14,13,2,-1,-2,-7,8,0,-1,5,3,7,5,5,3,3,8,4,13,-19,-19,-9,-13,-11,-12,-8,-8,4,-2,-1,-4,-8,3,-2,-7],
[9,4,9,11,8,13,11,10,11,7,1,0,-1,-5,6,6,-1,9,5,6,3,3,5,11,7,9,9,-19,-19,-4,-15,-17,-12,-8,-8,-7,-12,-2,2,-5,-1,0,-2],
[14,7,10,8,9,5,6,10,9,9,1,-1,6,-3,11,5,0,4,3,0,9,7,4,7,7,9,7,-19,-19,-8,-6,-13,-17,-14,-14,-5,-6,-2,-3,-5,0,-5,-5],
[12,9,12,9,6,7,9,4,10,13,2,3,3,-2,6,6,1,3,3,7,9,9,3,3,3,11,9,-15,-18,-8,-16,-11,-12,-12,-12,-5,-1,-4,-4,-1,-5,-2,-7]
];
// dendrograms: node=[height,left,right], leaf=index
const colTree=[100,[46,[29,[18,0,1],[24,[18,2,[14,3,4]],[22,[16,5,[13,6,7]],[18,8,9]]]],[36,[20,[12,10,11],[15,12,13]],[33,[24,[17,14,15],[20,16,[14,17,18]]],[26,[19,[14,19,20],[15,21,22]],[22,[16,23,24],[14,25,26]]]]]],[68,[32,[14,27,28],[27,29,[24,[17,30,31],32]]],[42,[26,33,34],[36,35,[33,36,[30,[24,[16,37,38],[18,39,40]],[20,41,42]]]]]]];
const rowTree=[100,[42,[34,0,[25,1,2]],[36,[28.5,[22,3,[17,4,[10,5,6]]],[25.6,[17,7,8],[22,9,[17,10,[15,11,12]]]]],[34.4,13,[27,[22,14,15],[24,[13,16,17],[20,18,19]]]]]],[53.5,[49.4,[25,20,21],[39,22,[28,23,[16,24,25]]]],[52.6,[39,26,27],[40,28,[37,[26.5,[19,29,30],[24,31,32]],[32,[20,33,[15,34,35]],[25,36,[21,37,[17,38,39]]]]]]]]];
const groupNames=['IPH','non-IPH'];
const colorTicks=[-2,-1,0,1,2];

// ---------- helpers ----------
const SERIF='"Liberation Serif",serif';
const COL={blue:'#4fb3cc',red:'#e0503a',gray:'#666666',iph:'#eb9678',non:'#3c5080'};
Chart.defaults.animation=false;
Chart.defaults.responsive=false;
Chart.defaults.devicePixelRatio=1;
Chart.defaults.font.family=SERIF;
Chart.defaults.plugins.legend.display=false;
Chart.defaults.plugins.tooltip.enabled=false;
Chart.defaults.layout.autoPadding=false;
function cv(l,t,w,h){const c=document.createElement('canvas');c.width=w;c.height=h;c.style.left=l+'px';c.style.top=t+'px';document.body.appendChild(c);return c.getContext('2d');}
const xy=a=>a.map(p=>({x:p[0],y:p[1]}));
const noPad=s=>{s.paddingTop=0;s.paddingBottom=0;s.paddingLeft=0;s.paddingRight=0;};
function heatColor(v){const lo=[67,177,205],hi=[221,74,50],c=v<0?lo:hi,k=Math.min(1,Math.abs(v)/2);
  return 'rgb('+c.map(u=>Math.round(255+(u-255)*k)).join(',')+')';}
function runs(g,list,cx,cy){
  let w=0;list.forEach(r=>{g.font=r[1]+'px '+SERIF;w+=g.measureText(r[0]).width;});
  let x=cx-w/2;g.textAlign='left';g.textBaseline='alphabetic';
  list.forEach(r=>{g.font=r[1]+'px '+SERIF;g.fillText(r[0],x,cy+r[2]);x+=g.measureText(r[0]).width;});
}

// ---------- Venn ----------
function venn(left,nums,pcts,names,nameColor){
  const C1={x:248.5,y:354},C2={x:461.4,y:354},R=163;
  const plug={id:'vennText',afterDatasetsDraw(ch){
    const g=ch.ctx,a=ch.getDatasetMeta(0).data[0],b=ch.getDatasetMeta(1).data[0];
    g.save();g.beginPath();g.arc(a.x,a.y,R,0,7);g.clip();g.beginPath();g.arc(b.x,b.y,R,0,7);g.fillStyle='#b9bb80';g.fill();g.restore();
    g.save();g.lineWidth=2.5;g.strokeStyle='#000';[a,b].forEach(e=>{g.beginPath();g.arc(e.x,e.y,R,0,7);g.stroke();});
    const X=ch.scales.x,Y=ch.scales.y;g.textAlign='center';g.textBaseline='middle';
    g.font='21px '+SERIF;g.letterSpacing='1.5px';
    g.fillStyle=nameColor[0];g.fillText(names[0],X.getPixelForValue(213.5),Y.getPixelForValue(148));
    g.fillStyle=nameColor[1];g.fillText(names[1],X.getPixelForValue(497),Y.getPixelForValue(148));
    g.letterSpacing='0px';g.fillStyle='#000';
    [213.5,356,497].forEach((x,i)=>{g.font='21px '+SERIF;g.fillText(String(nums[i]),X.getPixelForValue(x),Y.getPixelForValue(347));
      g.font='14px '+SERIF;g.fillText(pcts[i],X.getPixelForValue(x),Y.getPixelForValue(363));});
    g.restore();}};
  new Chart(cv(left,0,700,540),{type:'bubble',plugins:[plug],data:{datasets:[
    {data:[{x:C1.x,y:C1.y,r:R}],backgroundColor:'#6f76b6',borderWidth:0,clip:false},
    {data:[{x:C2.x,y:C2.y,r:R}],backgroundColor:'#f3ef84',borderWidth:0,clip:false}]},
   options:{layout:{padding:0},scales:{x:{type:'linear',min:0,max:700,display:false},y:{type:'linear',min:0,max:540,reverse:true,display:false}}}});
}
venn(0,vennA,vennApct,vennAnames,['#3b4ba0','#8f8f3c']);
venn(709,vennC,vennCpct,vennCnames,['#3b4ba0','#8f8f3c']);

// ---------- Volcano ----------
function volcano(left,labels,ringFill){
  const XMIN=-3.56,XMAX=3.53,YMIN=-0.45,YMAX=9.93;
  const links=[];labels.forEach(l=>{links.push({x:l[1],y:l[2]},{x:l[3],y:l[4]},{x:NaN,y:NaN});});
  const frame={id:'frameAndLabels',afterDatasetsDraw(ch){
    const g=ch.ctx,a=ch.chartArea,X=ch.scales.x,Y=ch.scales.y;g.save();
    g.lineWidth=2.5;g.strokeStyle='#000';g.strokeRect(a.left,a.top,a.right-a.left,a.bottom-a.top);
    g.fillStyle='#000';g.font='18px '+SERIF;g.textAlign='center';g.textBaseline='middle';
    labels.forEach(l=>g.fillText(l[0],X.getPixelForValue(l[5]),Y.getPixelForValue(l[6])));
    runs(g,[['Log',22,0],['2',16,5],[' (Fold  Change)',22,0]],(a.left+a.right)/2-4,708);
    g.translate(16,337);g.rotate(-Math.PI/2);
    runs(g,[['-Log ',22,7],['10',17,12],[' (P.adj)',22,7]],0,0);
    g.restore();}};
  const dashed=(d,o)=>({type:'scatter',data:d,showLine:true,pointRadius:0,borderColor:'#666',borderWidth:2,borderDash:[11,7],order:o});
  new Chart(cv(left,700,720,718),{type:'scatter',plugins:[frame],data:{datasets:[
    {data:xy(coneLeft),showLine:true,fill:'shape',backgroundColor:COL.gray,borderColor:COL.gray,borderWidth:3,pointRadius:0,order:20},
    {data:xy(coneRight),showLine:true,fill:'shape',backgroundColor:COL.gray,borderColor:COL.gray,borderWidth:3,pointRadius:0,order:20},
    {data:xy(grayDots),pointRadius:2.9,pointBorderWidth:0,pointBackgroundColor:COL.gray,order:19},
    {data:xy(grayMore),pointRadius:2.9,pointBorderWidth:0,pointBackgroundColor:COL.gray,order:19},
    {data:xy(grayWing),pointRadius:2.9,pointBorderWidth:0,pointBackgroundColor:COL.gray,order:19},
    {data:xy(blueUp),pointRadius:3.3,pointBorderWidth:0,pointBackgroundColor:COL.blue,order:18},
    {data:xy(redUp),pointRadius:3.3,pointBorderWidth:0,pointBackgroundColor:COL.red,order:18},
    dashed([{x:xCuts[0],y:YMIN},{x:xCuts[0],y:YMAX}],10),
    dashed([{x:xCuts[1],y:YMIN},{x:xCuts[1],y:YMAX}],10),
    dashed([{x:XMIN,y:yCut[0]},{x:XMAX,y:yCut[0]}],10),
    {data:links,showLine:true,spanGaps:false,borderColor:'#000',borderWidth:2,pointRadius:0,order:5},
    {data:labels.map(l=>({x:l[1],y:l[2]})),pointRadius:3,pointBorderWidth:1.6,pointBorderColor:'#000',pointBackgroundColor:ringFill,order:4}
  ]},options:{layout:{padding:{left:0,right:29,top:17.5,bottom:0}},
   scales:{
    x:{type:'linear',min:XMIN,max:XMAX,afterFit(s){s.height=67;noPad(s);},
      grid:{color:'#eeeeee',lineWidth:c=>c.tick&&c.tick.value%2===0?3.5:2,tickColor:c=>c.tick&&c.tick.value%2===0?'#222':'rgba(0,0,0,0)',tickLength:5,tickWidth:1.5},
      border:{display:false},
      ticks:{stepSize:1,includeBounds:false,autoSkip:false,maxRotation:0,padding:6,color:'#222',font:{size:19},callback:v=>v%2===0?String(v):''}},
    y:{type:'linear',min:YMIN,max:YMAX,afterFit(s){s.width=81;noPad(s);},
      grid:{color:'#eeeeee',lineWidth:c=>c.tick&&c.tick.value%2.5===0?3.5:2,tickColor:c=>c.tick&&c.tick.value%2.5===0?'#222':'rgba(0,0,0,0)',tickLength:5,tickWidth:1.5},
      border:{display:false},
      ticks:{stepSize:1.25,includeBounds:false,autoSkip:false,padding:5,color:'#222',font:{size:19},callback:v=>v%2.5===0?v.toFixed(1):''}}
   }}});
}
volcano(0,labelsB,COL.red);
volcano(709,labelsD,COL.blue);

// ---------- Heat map ----------
const colLabels=heatTenths[0].map((_,i)=>String(i));
new Chart(cv(1567,204,560,1182),{type:'bar',data:{labels:colLabels,datasets:heatTenths.map((row,r)=>({
    data:row.map(()=>[r,r+1]),backgroundColor:row.map(v=>heatColor(v/10)),borderWidth:0,borderSkipped:false,
    barPercentage:1,categoryPercentage:1,grouped:false}))},
  options:{layout:{padding:0},scales:{
    x:{type:'category',display:false},
    y:{type:'linear',min:0,max:genes.length,reverse:true,display:false},
    yGenes:{axis:'y',type:'category',labels:genes,position:'right',offset:true,afterFit(s){s.width=231;noPad(s);},
      grid:{display:false,drawTicks:false},border:{display:false},
      ticks:{autoSkip:false,padding:16,color:'#000',font:{size:32.5},crossAlign:'near'}}}}});

// annotation bar
new Chart(cv(1567,149,329,39),{type:'bar',data:{labels:colLabels,datasets:[{data:colLabels.map(()=>1),
    backgroundColor:colLabels.map((_,i)=>nonIphColumns.includes(i)?COL.non:COL.iph),borderWidth:0,barPercentage:1,categoryPercentage:1}]},
  options:{layout:{padding:0},scales:{x:{display:false},y:{display:false,min:0,max:1}}}});

// dendrograms
function treePath(node,horizontal){
  const out=[];
  (function walk(n){
    if(!Array.isArray(n))return {p:n+0.5,h:0};
    const a=walk(n[1]),b=walk(n[2]),p=(a.p+b.p)/2,h=n[0];
    const pts=[[a.p,a.h],[a.p,h],[b.p,h],[b.p,b.h]];
    pts.forEach(q=>out.push(horizontal?{x:q[0],y:q[1]}:{x:q[1],y:q[0]}));
    out.push({x:NaN,y:NaN});
    return {p,h};
  })(node);
  return out;
}
const lineSet=d=>({data:d,showLine:true,spanGaps:false,pointRadius:0,borderColor:'#000',borderWidth:3,clip:false,borderCapStyle:'square'});
new Chart(cv(1567,26,329,120),{type:'scatter',data:{datasets:[lineSet(treePath(colTree,true))]},
  options:{layout:{padding:{top:5,bottom:3}},scales:{x:{type:'linear',min:0,max:43,display:false},y:{type:'linear',min:0,max:100,display:false}}}});
new Chart(cv(1444,204,122,1182),{type:'scatter',data:{datasets:[lineSet(treePath(rowTree,false))]},
  options:{layout:{padding:{left:4,right:4}},scales:{x:{type:'linear',min:0,max:100,reverse:true,display:false},y:{type:'linear',min:0,max:40,reverse:true,display:false}}}});

// group legend
new Chart(cv(2125,430,239,195),{type:'bar',data:{labels:groupNames,datasets:[{data:[1,1],backgroundColor:[COL.iph,COL.non],borderWidth:0,barPercentage:0.93,categoryPercentage:1}]},
  options:{indexAxis:'y',layout:{padding:{left:5,bottom:9}},
   plugins:{title:{display:true,text:'Group',align:'start',color:'#000',font:{size:38,weight:'normal'},padding:{top:14,bottom:16}}},
   scales:{x:{display:false,min:0,max:1},y:{position:'right',afterFit(s){s.width=178;noPad(s);},grid:{display:false,drawTicks:false},border:{display:false},
     ticks:{padding:16,color:'#000',font:{size:33.5},crossAlign:'near'}}}}});

// colour bar
new Chart(cv(2125,640,239,340),{type:'bar',data:{labels:[''],datasets:[{data:[[-2.154,2.114]],borderWidth:0,barPercentage:1,categoryPercentage:1,
    backgroundColor(c){const a=c.chart.chartArea;if(!a)return '#fff';const Y=c.chart.scales.y,g=c.chart.ctx.createLinearGradient(0,a.bottom,0,a.top);
      colorTicks.forEach(t=>{const f=(Y.getPixelForValue(t)-a.bottom)/(a.top-a.bottom);g.addColorStop(f,heatColor(t));});
      g.addColorStop(0,heatColor(-2));g.addColorStop(1,heatColor(2));return g;}}]},
  options:{layout:{padding:{left:5,top:9,bottom:3.5}},scales:{x:{display:false},
    y:{min:-2.154,max:2.114,position:'right',afterFit(s){s.width=184;noPad(s);},
      grid:{z:1,color:'#ffffff',lineWidth:3,drawTicks:false},border:{display:false,dash:[13,19,18,0]},
      ticks:{stepSize:1,includeBounds:false,padding:10,color:'#000',font:{size:34},crossAlign:'near'}}}}});
</script>
</body></html>
